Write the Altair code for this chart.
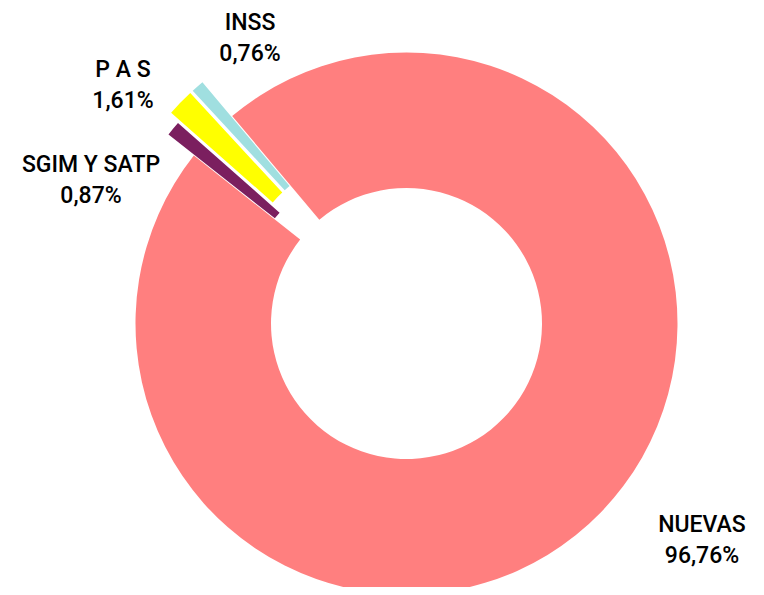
import math
import altair as alt
import pandas as pd

# ---- data ----
categories = ["SGIM Y SATP", "P A S", "INSS", "NUEVAS"]
values = [0.87, 1.61, 0.76, 96.76]

# ---- styles / layout (kept apart from the data) ----
colors = ["#7B1F5F", "#FFFF00", "#A0DFE0", "#FF7F7F"]
explode_px = [33, 45, 45, 0]
label_x = [83, 115, 242, 694]
label_y = [163.7, 68.7, 22, 523.7]

W, H = 748, 579
CX, CY = 398.5, 315.5
R_OUT, R_IN = 271, 135.5
START = math.radians(308.3)

df = pd.DataFrame({"cat": categories, "val": values})
df["end"] = df["val"].cumsum()
df["start"] = df["end"] - df["val"]
mid = START + 2 * math.pi * (df["start"] + df["end"]) / 200.0
df["ex"] = [CX + d * math.sin(m) for d, m in zip(explode_px, mid)]
df["ey"] = [CY - d * math.cos(m) for d, m in zip(explode_px, mid)]
df["label"] = [f"{c}\n{v:.2f}%".replace(".", ",") for c, v in zip(categories, values)]
df["lx"] = label_x
df["ly"] = label_y

base = alt.Chart(df)

arcs = base.mark_arc(radius=R_OUT, radius2=R_IN).encode(
    theta=alt.Theta("start:Q", stack=None,
                    scale=alt.Scale(domain=[0, 100], range=[START, START + 2 * math.pi])),
    theta2="end:Q",
    x=alt.X("ex:Q", scale=None, axis=None),
    y=alt.Y("ey:Q", scale=None, axis=None),
    color=alt.Color("cat:N", scale=alt.Scale(domain=categories, range=colors), legend=None),
)

labels = base.mark_text(
    align="center", baseline="alphabetic", lineBreak="\n", lineHeight=31,
    font="Roboto", fontWeight=500, fontSize=23, color="#000000",
).encode(
    x=alt.X("lx:Q", scale=None, axis=None),
    y=alt.Y("ly:Q", scale=None, axis=None),
    text="label:N",
)

chart = alt.layer(arcs, labels).properties(
    width=W, height=H, autosize=alt.AutoSizeParams(type="none"), padding=0
).configure_view(stroke=None)

chart.save("out.html", embed_options={"renderer": "svg", "actions": False})
